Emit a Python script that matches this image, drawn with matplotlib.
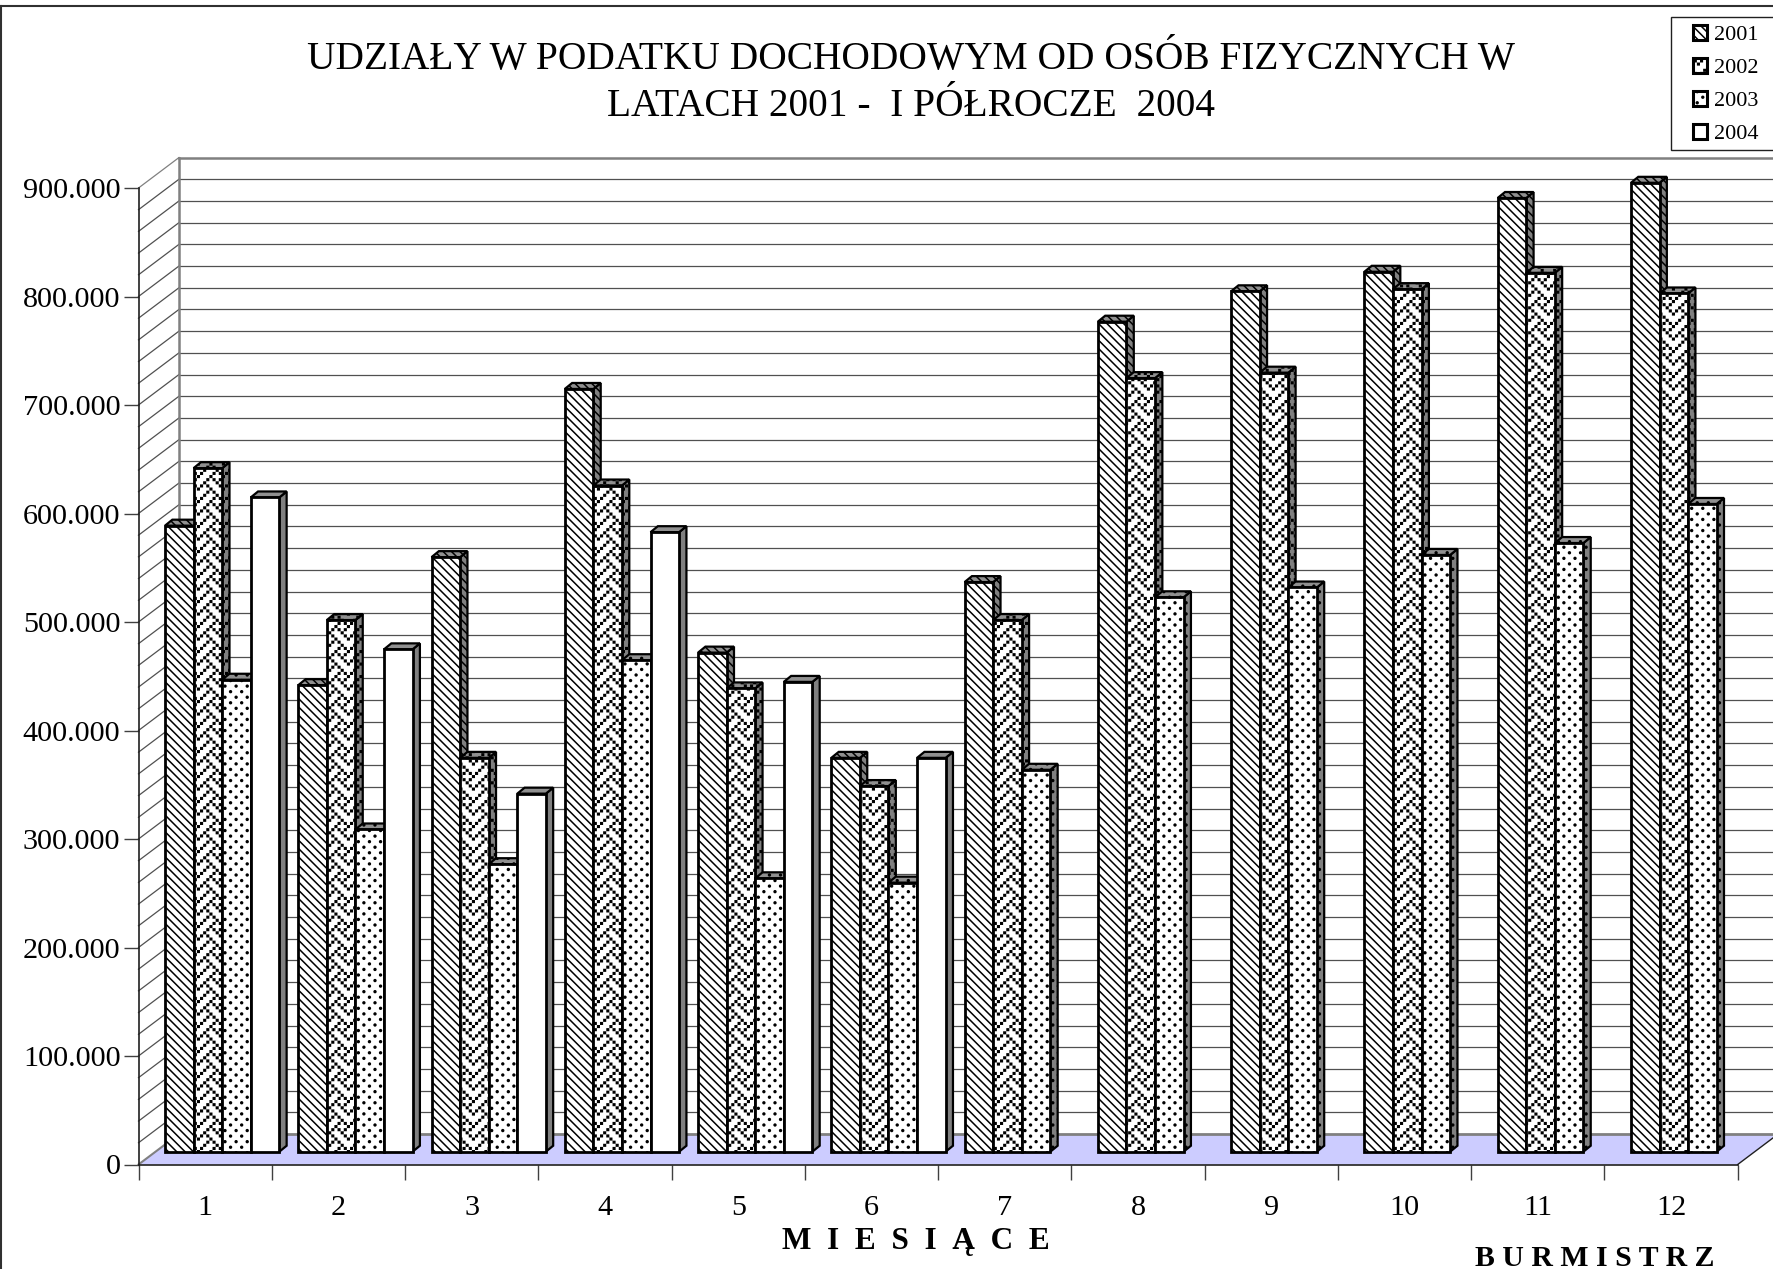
import matplotlib
matplotlib.use("Agg")
import matplotlib.pyplot as plt
import numpy as np
from matplotlib import hatch as mhatch
from matplotlib.path import Path
from matplotlib.patches import Patch, Polygon, Rectangle

plt.rcParams['font.family'] = ['Liberation Serif', 'DejaVu Serif']
plt.rcParams['hatch.linewidth'] = 1.1

# values
months = ['1', '2', '3', '4', '5', '6', '7', '8', '9', '10', '11', '12']
v2001 = [577000, 430000, 548000, 703000, 460000, 363000, 525000, 765000, 793000, 811000, 879000, 893000]
v2002 = [630000, 490000, 363000, 614000, 427000, 337000, 490000, 713000, 718000, 795000, 810000, 791000]
v2003 = [435000, 297000, 265000, 453000, 252000, 248000, 352000, 511000, 520000, 550000, 561000, 597000]
v2004 = [603000, 463000, 330000, 571000, 433000, 363000]
years = ['2001', '2002', '2003', '2004']
series = [v2001, v2002, v2003, v2004]
hatches = ['\\\\\\\\', 'w', 'p', '']

# excel "weave" bit pattern
weave_bits = [0x11, 0x2a, 0x44, 0xa2, 0x11, 0x28, 0x44, 0x8a]


# the two excel patterns matplotlib doesn't have
class WeaveHatch(mhatch.HatchPatternBase):
    filled = True

    def __init__(self, hatch, density):
        self.on = 'w' in hatch
        self.n = 4
        nbits = sum(bin(b).count('1') for b in weave_bits)
        self.num_vertices = nbits * self.n * self.n * 5 if self.on else 0

    def set_vertices_and_codes(self, vertices, codes):
        s = 1.0 / (self.n * 8)
        r = s * 0.25
        k = 0
        for i in range(self.n):
            for j in range(self.n):
                for row, bits in enumerate(weave_bits):
                    for col in range(8):
                        if bits >> (7 - col) & 1:
                            x = (i * 8 + col + 0.5) * s
                            y = 1 - (j * 8 + row + 0.5) * s
                            vertices[k:k + 5] = [(x - r, y - r), (x + r, y - r), (x + r, y + r), (x - r, y + r), (x - r, y - r)]
                            codes[k:k + 5] = [Path.MOVETO, Path.LINETO, Path.LINETO, Path.LINETO, Path.CLOSEPOLY]
                            k += 5


class DotHatch(mhatch.HatchPatternBase):
    filled = True

    def __init__(self, hatch, density):
        self.on = 'p' in hatch
        self.n = 9
        self.circle = Path.unit_circle()
        self.num_vertices = len(self.circle.vertices) * self.n * self.n * 2 if self.on else 0

    def set_vertices_and_codes(self, vertices, codes):
        m = len(self.circle.vertices)
        s = 1.0 / self.n
        k = 0
        for i in range(self.n):
            for j in range(self.n):
                for ox, oy in ((0.25, 0.25), (0.75, 0.75)):
                    vertices[k:k + m] = self.circle.vertices * 0.009 + [(i + ox) * s, (j + oy) * s]
                    codes[k:k + m] = self.circle.codes
                    k += m


mhatch._hatch_types.extend([WeaveHatch, DotHatch])

W, H = 1774, 1269
fig = plt.figure(figsize=(W / 100, H / 100), dpi=100)
x0, x1 = 138.5, 1737.7
y0, y1 = 1164.5, 188.0
ax = fig.add_axes([x0 / W, 1 - y0 / H, (x1 - x0) / W, (y0 - y1) / H])
ax.set_xlim(0, 12)
ax.set_ylim(0, 900000)
ax.patch.set_visible(False)

# depth of the fake 3d box, in data units
box_dx, box_dy = 0.304, 28100
bar_w = 0.2144
bar_x = 0.199
bar_base = 11800
side_dx, side_dy = 0.055, 5500

# floor
ax.add_patch(Polygon([(0, 0), (12, 0), (12 + box_dx, box_dy), (box_dx, box_dy)],
                     fc='#CCCCFF', ec='none', clip_on=False, zorder=1))
ax.plot([box_dx, 12 + box_dx], [box_dy, box_dy], color='#808080', lw=2, clip_on=False, zorder=2)
ax.plot([0, box_dx], [0, box_dy], color='#808080', lw=1.5, clip_on=False, zorder=2)
ax.plot([12, 12 + box_dx], [0, box_dy], color='#202020', lw=1, clip_on=False, zorder=2)

# back wall and left wall lines
for v in range(20000, 900001, 20000):
    c = '#808080' if v == 900000 else '#505050'
    ax.plot([box_dx, 12 + box_dx], [v + box_dy, v + box_dy], color=c, lw=1.8 if v == 900000 else 0.9,
            clip_on=False, zorder=2)
    ax.plot([0, box_dx], [v, v + box_dy], color=c, lw=0.9, clip_on=False, zorder=2)
ax.plot([box_dx, box_dx], [box_dy, 900000 + box_dy], color='#808080', lw=1.8, clip_on=False, zorder=2)


def draw_bar(x, val, h, z):
    top = bar_base + val
    ax.add_patch(Polygon([(x + bar_w, bar_base), (x + bar_w + side_dx, bar_base + side_dy),
                          (x + bar_w + side_dx, top + side_dy), (x + bar_w, top)],
                         fc='#808080', ec='black', hatch=h, lw=1.6, clip_on=False, zorder=z))
    ax.add_patch(Polygon([(x, top), (x + bar_w, top), (x + bar_w + side_dx, top + side_dy),
                          (x + side_dx, top + side_dy)],
                         fc='#909090', ec='black', hatch=h, lw=1.6, clip_on=False, zorder=z))
    ax.add_patch(Rectangle((x, bar_base), bar_w, val, fc='white', ec='black', hatch=h, lw=2.0,
                           clip_on=False, zorder=z))


z = 3
for m in range(12):
    for s, vals in enumerate(series):
        if m < len(vals):
            draw_bar(m + bar_x + s * bar_w, vals[m], hatches[s], z)
            z += 1

# axes
for name in ('top', 'right'):
    ax.spines[name].set_visible(False)
for name in ('left', 'bottom'):
    ax.spines[name].set_linewidth(1.2)
    ax.spines[name].set_color('#202020')
    ax.spines[name].set_zorder(2.5)
ax.set_yticks(range(0, 900001, 100000))
ax.set_yticklabels([f'{v:,}'.replace(',', '.') for v in range(0, 900001, 100000)])
ax.tick_params(axis='y', length=11, width=1, labelsize=21.7, pad=2, color='#404040')
ax.set_xticks(range(13))
ax.set_xticklabels([])
ax.set_xticks(np.arange(12) + 0.5, months, minor=True)
ax.tick_params(axis='x', which='major', length=11, width=1, color='#404040')
ax.tick_params(axis='x', which='minor', length=0, labelsize=21.7, pad=22)

# titles
fig.text(911 / W, 1 - 59 / H, 'UDZIAŁY W PODATKU DOCHODOWYM OD OSÓB FIZYCZNYCH W', ha='center', va='center', fontsize=28.4)
fig.text(911 / W, 1 - 107 / H, 'LATACH 2001 -  I PÓŁROCZE  2004', ha='center', va='center', fontsize=28.4)
fig.text(916 / W, 1 - 1241 / H, 'M  I  E  S  I  Ą  C  E', ha='center', va='center', fontsize=22.5, fontweight='bold')
fig.text(1595 / W, 1 - 1259 / H, 'B U R M I S T R Z', ha='center', va='center', fontsize=21.4, fontweight='bold')

# frame of the chart area, cut by the page on the other sides
fig.add_artist(plt.Line2D([1 / W, 1 / W], [0, 1 - 6 / H], color='#303030', lw=1.5))
fig.add_artist(plt.Line2D([1 / W, 1], [1 - 6 / H, 1 - 6 / H], color='#303030', lw=1.5))

# legend box runs off the page on the right
fig.add_artist(Rectangle((1671 / W, 1 - 150 / H), 120 / W, 133.3 / H, transform=fig.transFigure,
                         fc='white', ec='#202020', lw=1, zorder=5))
handles = [Patch(fc='white', ec='black', hatch=h, lw=2.2, label=y) for h, y in zip(hatches, years)]
leg = fig.legend(handles=handles, loc='upper left', bbox_to_anchor=(1693 / W, 1 - 25 / H),
                 fontsize=16, frameon=False, handlelength=0.64, handleheight=0.64, handletextpad=0.3,
                 labelspacing=0.58, borderpad=0, borderaxespad=0)
leg.set_zorder(6)

fig.savefig('out.png', dpi=100)
